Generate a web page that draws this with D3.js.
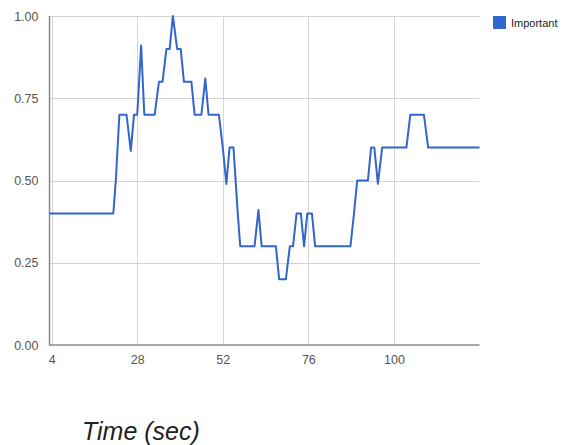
<!DOCTYPE html>
<html>
<head>
<meta charset="utf-8">
<script src="https://cdn.jsdelivr.net/npm/d3@7"></script>
<style>
  html, body { margin: 0; padding: 0; background: #fff; }
  svg { display: block; font-family: "Liberation Sans", Arial, sans-serif; }
</style>
</head>
<body>
<svg id="chart" width="569" height="445"></svg>
<script>
// ---- data ----
const seriesName = "Important";
const times = [3.4, 21.3, 22, 23, 25, 26.2, 27.1, 28, 29.1, 30, 32.9, 34.1, 35.1, 36.2, 37.1, 38, 39.2, 40.2, 41.1, 43.2,
  44.1, 46, 47.1, 48, 50.9, 52, 53, 53.9, 55, 56.2, 56.9, 60.9, 62, 62.9, 66.9, 67.8, 69.7, 70.8, 71.7, 72.7,
  73.9, 74.8, 75.7, 77, 77.9, 87.8, 88.8, 89.7, 92.7, 93.6, 94.5, 95.5, 96.7, 103.5, 104.6, 108.4, 109.6, 124];
const values = [0.4, 0.4, 0.5, 0.7, 0.7, 0.59, 0.7, 0.7, 0.91, 0.7, 0.7, 0.8, 0.8, 0.9, 0.9, 1.0, 0.9, 0.9, 0.8, 0.8,
  0.7, 0.7, 0.81, 0.7, 0.7, 0.6, 0.49, 0.6, 0.6, 0.4, 0.3, 0.3, 0.41, 0.3, 0.3, 0.2, 0.2, 0.3, 0.3, 0.4,
  0.4, 0.3, 0.4, 0.4, 0.3, 0.3, 0.4, 0.5, 0.5, 0.6, 0.6, 0.49, 0.6, 0.6, 0.7, 0.7, 0.6, 0.6];
const xTicks = [4, 28, 52, 76, 100];
const yTicks = [0, 0.25, 0.5, 0.75, 1.0];
const xTitle = "Time (sec)";

// ---- layout ----
const svg = d3.select("#chart");
const mLeft = 49.5, mRight = 479.5, mTop = 16, mBottom = 345;
const x = d3.scaleLinear().domain([3.4, 124]).range([mLeft, mRight]);
const y = d3.scaleLinear().domain([0, 1]).range([mBottom, mTop]);

// grid
const grid = svg.append("g");
grid.selectAll("line.h").data(yTicks.filter(d => d > 0)).join("line")
  .attr("x1", mLeft).attr("x2", mRight)
  .attr("y1", d => Math.round(y(d)) + 0.5).attr("y2", d => Math.round(y(d)) + 0.5)
  .attr("stroke", "#d4d4d4").attr("stroke-width", 1);
grid.selectAll("line.v").data(xTicks).join("line")
  .attr("x1", d => Math.round(x(d)) + 0.5).attr("x2", d => Math.round(x(d)) + 0.5)
  .attr("y1", mTop).attr("y2", mBottom)
  .attr("stroke", "#d4d4d4").attr("stroke-width", 1);

// axes via d3
const yAxis = d3.axisLeft(y).tickValues(yTicks).tickFormat(d3.format(".2f")).tickSize(0).tickPadding(11);
const xAxis = d3.axisBottom(x).tickValues(xTicks).tickFormat(d3.format("d")).tickSize(0).tickPadding(10);

const gy = svg.append("g").attr("transform", `translate(${mLeft},0)`).call(yAxis);
const gx = svg.append("g").attr("transform", `translate(0,${mBottom})`).call(xAxis);
[gy, gx].forEach(g => {
  g.select(".domain").remove();
  g.selectAll("text").attr("fill", "#555").style("font-size", "12.5px")
    .style("font-family", "'Liberation Sans', Arial, sans-serif");
});

// axis baselines
svg.append("line").attr("x1", mLeft).attr("x2", mLeft).attr("y1", mTop).attr("y2", mBottom + 0.5)
  .attr("stroke", "#8a8a8a").attr("stroke-width", 1.5);
svg.append("line").attr("x1", mLeft).attr("x2", mRight).attr("y1", mBottom).attr("y2", mBottom)
  .attr("stroke", "#8a8a8a").attr("stroke-width", 1.5);

// series line
const pts = times.map((t, i) => [t, values[i]]);
const line = d3.line().x(d => x(d[0])).y(d => y(d[1]));
svg.append("path").datum(pts)
  .attr("d", line)
  .attr("fill", "none")
  .attr("stroke", "#3366cc")
  .attr("stroke-width", 2)
  .attr("stroke-linejoin", "round");

// legend
const lg = svg.append("g").attr("transform", "translate(493,16)");
lg.append("rect").attr("width", 13).attr("height", 13).attr("fill", "#3366cc");
lg.append("text").attr("x", 18).attr("y", 11).text(seriesName)
  .attr("fill", "#222").style("font-size", "11px");

// x-axis title
svg.append("text").attr("x", 82).attr("y", 440).text(xTitle)
  .attr("fill", "#222").style("font-size", "25px").style("font-style", "italic");
</script>
</body>
</html>
